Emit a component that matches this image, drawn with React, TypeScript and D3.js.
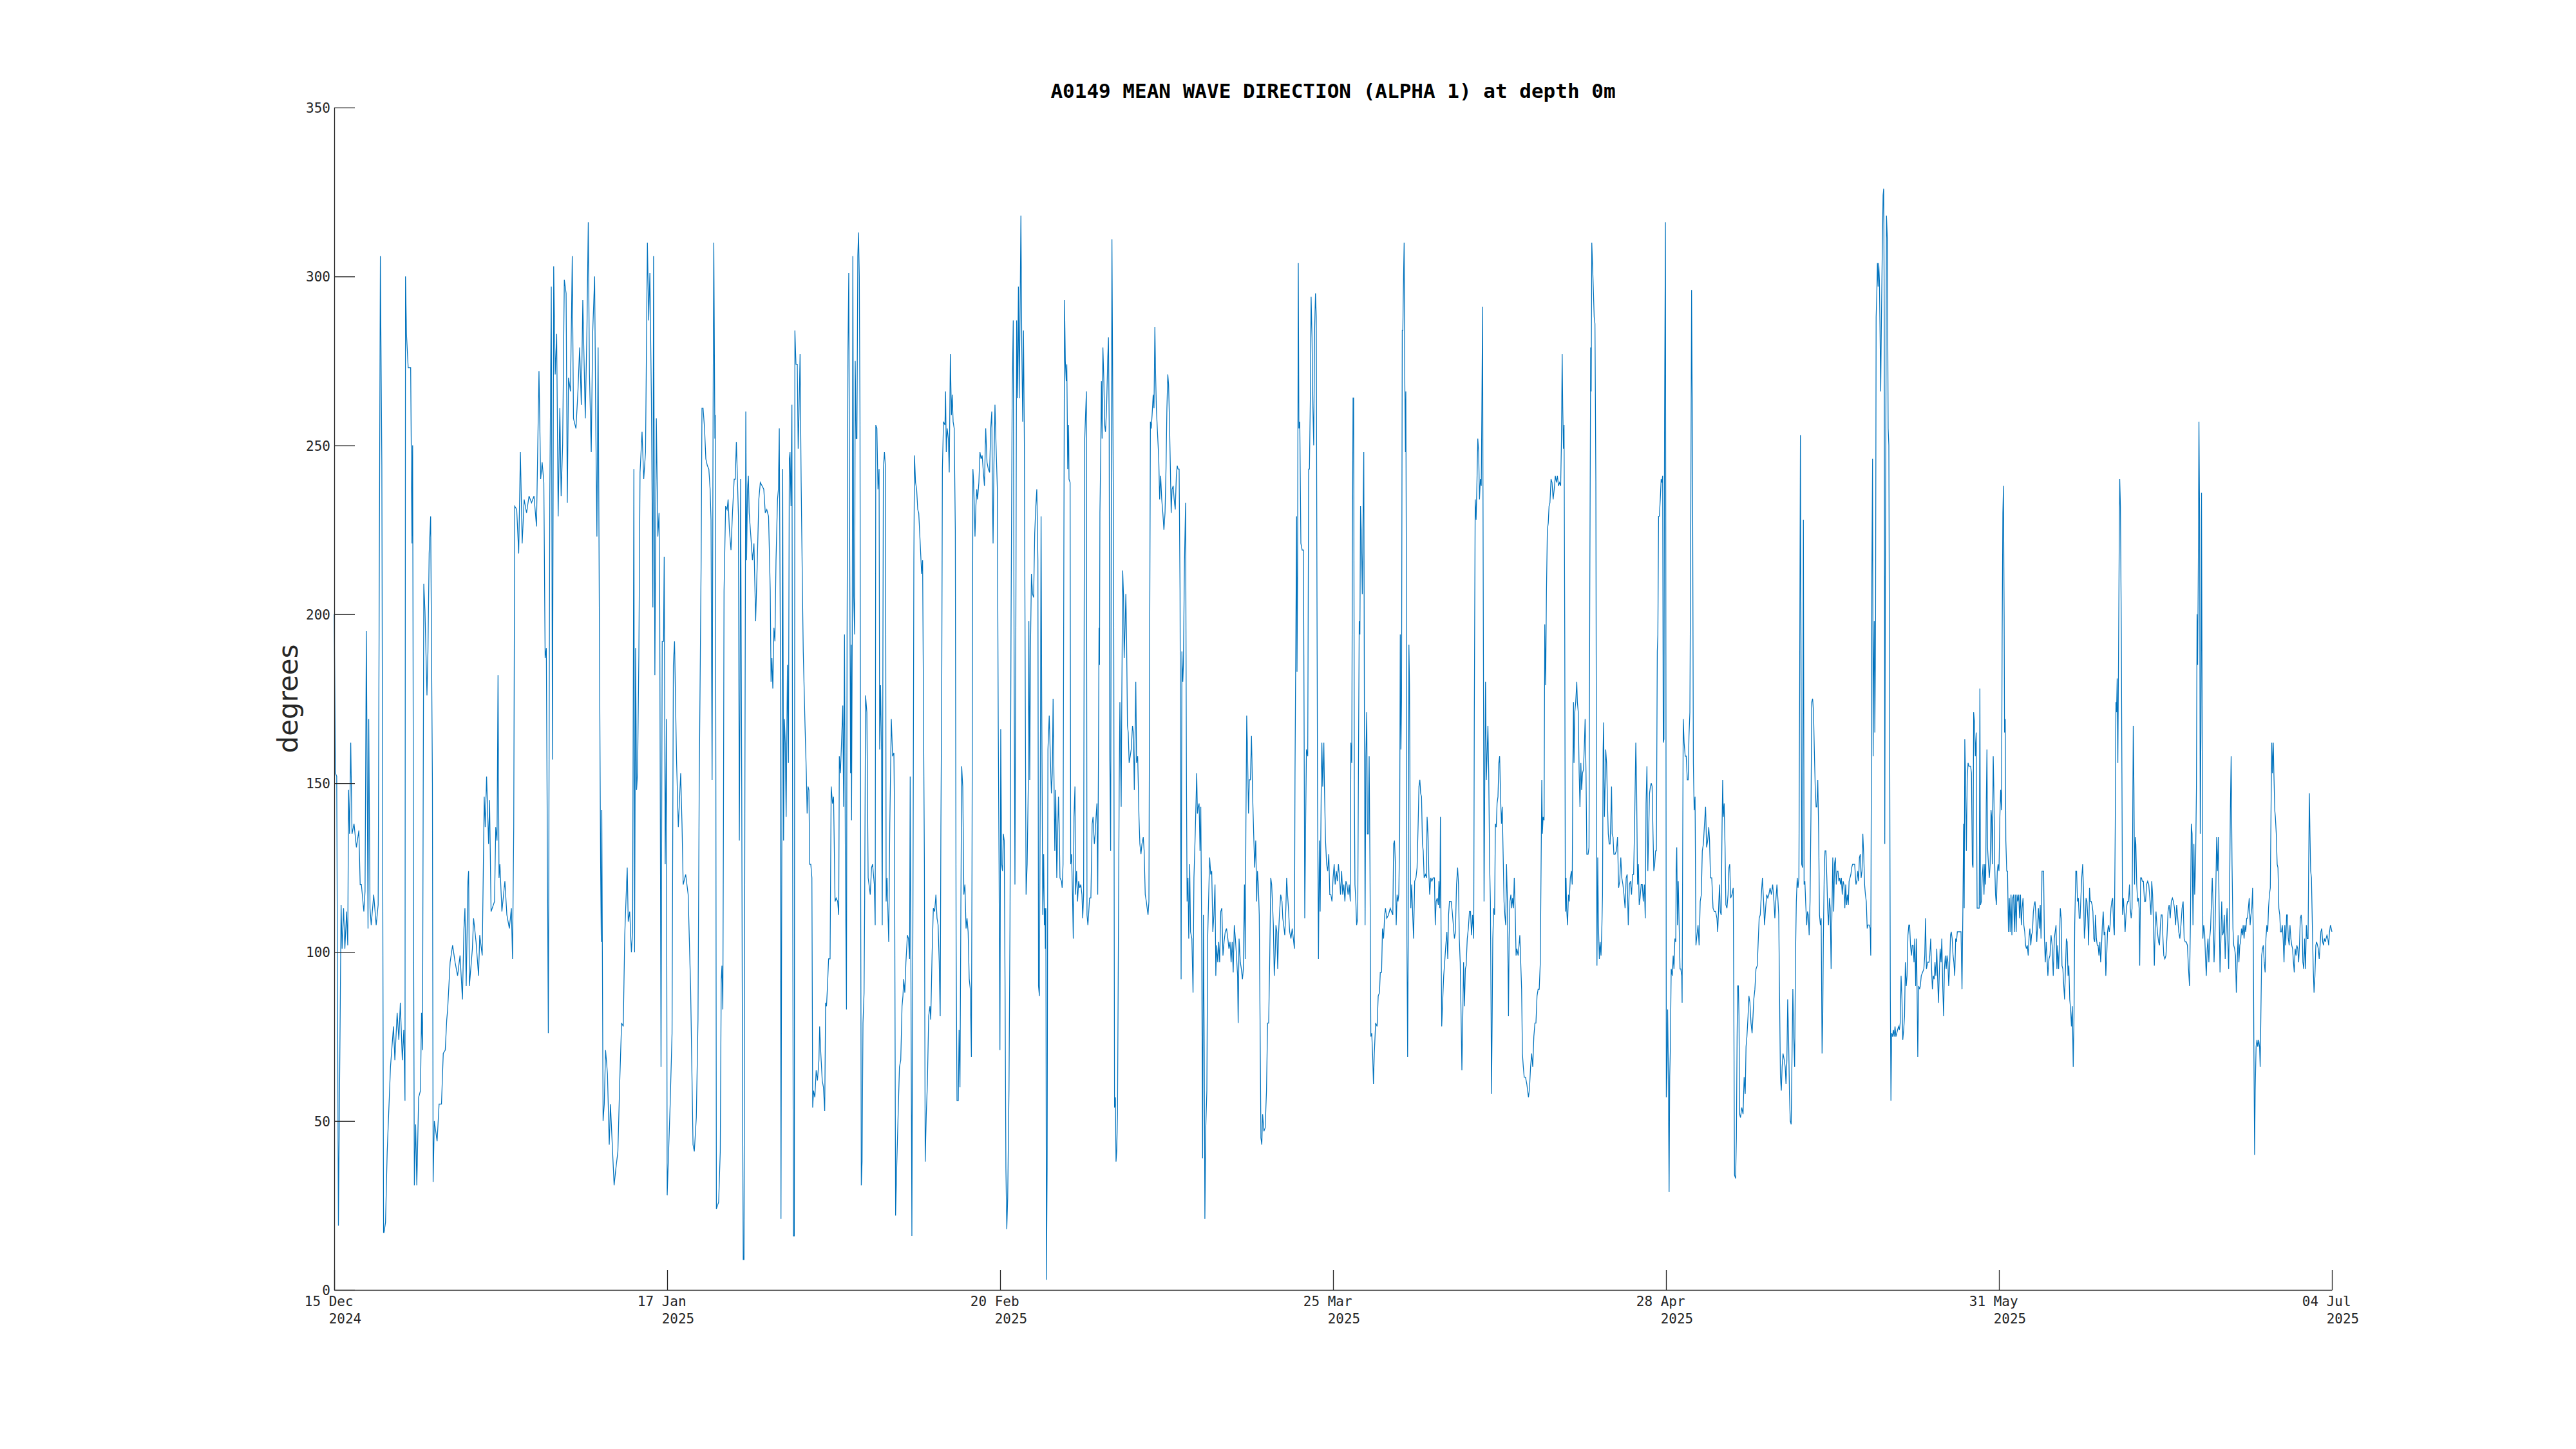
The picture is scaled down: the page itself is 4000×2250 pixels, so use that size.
import { useEffect, useRef } from "react";
import * as d3 from "d3";

const WIDTH = 4000;
const HEIGHT = 2250;

const title = "A0149 MEAN WAVE DIRECTION (ALPHA 1) at depth 0m";
const yLabel = "degrees";
const startDate = Date.UTC(2024, 11, 15);
const endDate = Date.UTC(2025, 6, 4);
const yTicks = [0, 50, 100, 150, 200, 250, 300, 350];
const xTickCount = 7;

// [days since 15 Dec 2024 00:00, degrees]
const decJanSamples: [number, number][] = [
  [0.00, 200], [0.12, 153], [0.25, 152], [0.42, 19], [0.69, 114], [0.79, 101], [0.94, 113], [1.07, 101],
  [1.24, 112], [1.36, 102], [1.44, 148], [1.54, 135], [1.66, 162], [1.79, 135], [1.99, 138], [2.23, 131],
  [2.48, 136], [2.61, 120], [2.73, 120], [2.98, 112], [3.10, 118], [3.23, 195], [3.40, 107], [3.47, 169],
  [3.60, 113], [3.72, 108], [3.97, 117], [4.22, 108], [4.42, 114], [4.52, 200], [4.64, 306], [4.79, 244],
  [4.96, 17], [5.01, 17], [5.16, 20], [5.33, 41], [5.66, 66], [5.96, 78], [6.10, 68], [6.33, 82],
  [6.50, 74], [6.65, 85], [6.85, 68], [7.00, 77], [7.12, 56], [7.17, 300], [7.27, 283], [7.44, 273],
  [7.69, 273], [7.82, 221], [7.89, 250], [7.99, 100], [8.06, 31], [8.19, 49], [8.31, 31], [8.49, 57],
  [8.68, 59], [8.78, 82], [8.88, 71], [9.01, 209], [9.13, 201], [9.33, 176], [9.43, 189], [9.55, 218],
  [9.70, 229], [9.88, 150], [9.95, 32], [10.07, 50], [10.35, 44], [10.55, 55], [10.79, 55], [10.97, 70],
  [11.17, 71], [11.32, 80], [11.41, 83], [11.66, 97], [11.91, 102], [12.16, 97], [12.41, 93], [12.66, 99],
  [12.90, 86], [13.05, 107], [13.15, 113], [13.28, 90], [13.45, 121], [13.52, 124], [13.60, 90], [13.90, 101],
  [14.02, 110], [14.27, 103], [14.52, 93], [14.64, 105], [14.89, 99], [15.09, 146], [15.19, 137], [15.33, 152],
  [15.53, 132], [15.63, 145], [15.78, 112], [16.13, 115], [16.25, 137], [16.38, 133], [16.48, 182], [16.58, 122],
  [16.67, 126], [16.87, 112], [17.17, 121], [17.37, 111], [17.62, 107], [17.82, 113], [17.94, 98], [18.06, 137],
  [18.16, 232], [18.36, 231], [18.56, 218], [18.73, 248], [18.91, 221], [19.11, 234], [19.35, 230], [19.60, 235],
  [19.85, 233], [20.10, 235], [20.35, 226], [20.60, 272], [20.77, 240], [20.92, 245], [21.09, 239], [21.22, 187],
  [21.34, 190], [21.54, 76], [21.69, 235], [21.84, 297], [21.96, 157], [22.08, 303], [22.23, 271], [22.38, 283],
  [22.53, 229], [22.70, 261], [22.83, 235], [22.98, 250], [23.15, 299], [23.33, 295], [23.45, 233], [23.57, 270],
  [23.77, 266], [23.95, 306], [24.07, 258], [24.32, 255], [24.52, 266], [24.69, 279], [24.86, 262], [25.01, 293],
  [25.26, 258], [25.43, 285], [25.56, 316], [25.68, 271], [25.86, 248], [26.00, 283], [26.20, 300], [26.30, 262],
  [26.43, 223], [26.55, 279], [26.67, 202], [26.80, 126], [26.87, 103], [26.92, 142], [27.05, 50], [27.17, 55],
  [27.30, 71], [27.49, 64], [27.67, 43], [27.79, 55], [27.99, 42], [28.16, 31], [28.34, 36], [28.54, 41],
  [28.73, 62], [28.91, 79], [29.08, 78], [29.23, 105], [29.35, 115], [29.48, 125], [29.58, 109], [29.73, 112],
  [29.90, 100], [30.02, 106], [30.15, 243], [30.22, 100], [30.32, 190], [30.42, 148], [30.52, 153], [30.65, 188],
  [30.77, 242], [30.97, 254], [31.14, 240], [31.32, 248], [31.51, 310], [31.64, 287], [31.76, 301], [31.91, 264],
  [32.06, 202], [32.13, 306], [32.26, 182], [32.41, 258], [32.56, 223], [32.68, 230], [32.75, 202], [32.88, 66],
  [33.00, 192], [33.13, 192], [33.20, 217], [33.30, 126], [33.42, 169], [33.50, 28], [33.62, 39], [33.80, 55],
  [33.99, 76], [34.12, 185], [34.24, 192], [34.44, 157], [34.62, 137], [34.86, 153], [34.99, 138], [35.11, 120],
  [35.36, 123], [35.61, 117], [35.86, 89], [36.10, 43], [36.23, 41], [36.43, 51], [36.60, 80], [36.72, 148],
  [36.92, 217],
];

const janFebSamples: [number, number][] = [
  [37.00, 261], [37.11, 261], [37.26, 255], [37.39, 246], [37.54, 244], [37.69, 243], [37.82, 237], [37.91, 228],
  [38.02, 151], [38.12, 261], [38.19, 310], [38.30, 252], [38.34, 259], [38.40, 149], [38.45, 24], [38.56, 25],
  [38.68, 26], [38.84, 41], [38.94, 92], [39.01, 96], [39.10, 83], [39.16, 138], [39.22, 207], [39.38, 232],
  [39.53, 231], [39.63, 234], [39.76, 225], [39.92, 219], [40.07, 230], [40.24, 240], [40.35, 240], [40.46, 251],
  [40.56, 241], [40.67, 229], [40.76, 133], [40.82, 171], [40.89, 240], [41.00, 149], [41.06, 81], [41.15, 9],
  [41.23, 9], [41.32, 149], [41.41, 260], [41.49, 216], [41.58, 237], [41.67, 241], [41.75, 230], [41.92, 223],
  [42.08, 216], [42.23, 221], [42.40, 198], [42.57, 216], [42.72, 234], [42.87, 239], [43.05, 238], [43.22, 237],
  [43.37, 230], [43.52, 231], [43.70, 229], [43.87, 207], [43.95, 180], [44.04, 187], [44.13, 178], [44.24, 196],
  [44.34, 192], [44.45, 216], [44.60, 234], [44.69, 237], [44.78, 255], [44.88, 194], [44.95, 21], [45.03, 126],
  [45.12, 243], [45.21, 133], [45.29, 169], [45.38, 162], [45.47, 140], [45.60, 185], [45.70, 156], [45.79, 246],
  [45.86, 248], [45.96, 232], [46.05, 262], [46.14, 104], [46.20, 16], [46.29, 16], [46.35, 284], [46.46, 274],
  [46.59, 274], [46.68, 249], [46.76, 259], [46.87, 277], [46.98, 239], [47.11, 207], [47.19, 189], [47.37, 167],
  [47.50, 153], [47.58, 141], [47.67, 149], [47.76, 148], [47.84, 126], [47.95, 126], [48.06, 122], [48.14, 54],
  [48.23, 59], [48.36, 57], [48.49, 65], [48.62, 62], [48.77, 68], [48.84, 78], [48.94, 71], [49.10, 62],
  [49.22, 60], [49.35, 53], [49.44, 85], [49.53, 84], [49.63, 90], [49.74, 98], [49.89, 98], [50.00, 149],
  [50.13, 144], [50.24, 146], [50.39, 115], [50.50, 116], [50.65, 115], [50.76, 111], [50.82, 158], [50.93, 153],
  [51.04, 162], [51.17, 173], [51.25, 143], [51.34, 194], [51.43, 126], [51.54, 83], [51.60, 194], [51.69, 278],
  [51.77, 301], [51.86, 223], [51.95, 153], [52.01, 191], [52.05, 139], [52.12, 194], [52.18, 306], [52.27, 205],
  [52.36, 194], [52.42, 275], [52.51, 252], [52.59, 252], [52.68, 306], [52.75, 313], [52.83, 300], [52.90, 257],
  [52.98, 104], [53.03, 31], [53.11, 38], [53.20, 79], [53.31, 88], [53.37, 115], [53.46, 176], [53.59, 171],
  [53.72, 122], [53.85, 119], [53.93, 117], [54.06, 125], [54.17, 126], [54.28, 122], [54.34, 120], [54.43, 108],
  [54.49, 256], [54.60, 255], [54.71, 237], [54.82, 243], [54.88, 160], [54.97, 179], [55.06, 160], [55.14, 108],
  [55.25, 243], [55.36, 248], [55.47, 243], [55.53, 115], [55.62, 122], [55.79, 103], [55.90, 138], [56.05, 169],
  [56.18, 158], [56.31, 159], [56.37, 141], [56.48, 22], [56.59, 36], [56.72, 50], [56.87, 66], [57.00, 68],
  [57.13, 84], [57.22, 87], [57.30, 92], [57.41, 88], [57.52, 97], [57.67, 105], [57.78, 104], [57.89, 98],
  [57.95, 152], [58.02, 99], [58.12, 16], [58.23, 115], [58.32, 216], [58.38, 247], [58.49, 239], [58.60, 237],
  [58.71, 231], [58.81, 230], [58.99, 219], [59.10, 212], [59.20, 216], [59.29, 171], [59.38, 126], [59.46, 38],
  [59.57, 52], [59.68, 61], [59.81, 81], [59.94, 84], [60.02, 80], [60.15, 99], [60.28, 113], [60.41, 112],
  [60.54, 117], [60.65, 110], [60.76, 108], [60.87, 97], [60.97, 81], [61.04, 137], [61.13, 183], [61.19, 243],
  [61.30, 257], [61.45, 256], [61.51, 266], [61.58, 248], [61.67, 255], [61.79, 252], [61.88, 242], [61.99, 277],
  [62.10, 259], [62.18, 265], [62.27, 257], [62.38, 255], [62.49, 225], [62.57, 104], [62.66, 56], [62.79, 56],
  [62.87, 77], [62.96, 60], [63.05, 113], [63.13, 155], [63.24, 149], [63.35, 117], [63.46, 120], [63.57, 107],
  [63.67, 110], [63.78, 106], [63.89, 92], [64.00, 89], [64.11, 69], [64.17, 126], [64.26, 243], [64.34, 239],
  [64.47, 223], [64.56, 232], [64.65, 237], [64.73, 234], [64.86, 239], [64.97, 248], [65.08, 246], [65.19, 247],
  [65.29, 243], [65.42, 238], [65.55, 255], [65.68, 245], [65.81, 243], [65.94, 242], [66.05, 255], [66.16, 260],
  [66.22, 237], [66.29, 221], [66.37, 243], [66.48, 262], [66.59, 250], [66.72, 237], [66.81, 167], [66.89, 126],
  [66.98, 71], [67.06, 166], [67.15, 126], [67.24, 124], [67.32, 135], [67.41, 133], [67.50, 88], [67.58, 36],
  [67.67, 18], [67.76, 27], [67.89, 59], [67.99, 108], [68.10, 198], [68.21, 264], [68.32, 287], [68.40, 194],
  [68.49, 120], [68.58, 194], [68.66, 287], [68.75, 264], [68.84, 297], [68.92, 264], [69.01, 291], [69.09, 318],
  [69.18, 279], [69.27, 257], [69.35, 284], [69.44, 250], [69.53, 176], [69.61, 117], [69.72, 126], [69.83, 149],
  [69.89, 198], [69.98, 151], [70.05, 189], [70.15, 212], [70.26, 206], [70.37, 205], [70.48, 224], [70.59, 232],
];

const febMarSamples: [number, number][] = [
  [70.69, 237], [70.80, 216], [70.86, 90], [70.95, 87], [71.04, 149], [71.12, 229], [71.19, 171], [71.29, 111],
  [71.38, 129], [71.45, 108], [71.51, 113], [71.55, 101], [71.60, 113], [71.66, 3], [71.73, 36], [71.81, 160],
  [71.94, 170], [72.05, 158], [72.16, 147], [72.25, 153], [72.33, 175], [72.42, 151], [72.50, 130], [72.59, 148],
  [72.70, 122], [72.79, 135], [72.87, 146], [72.96, 135], [73.02, 122], [73.17, 121], [73.24, 119], [73.33, 126],
  [73.41, 216], [73.48, 293], [73.56, 275], [73.65, 269], [73.71, 274], [73.80, 243], [73.89, 256], [73.93, 240],
  [74.04, 239], [74.10, 126], [74.19, 129], [74.28, 117], [74.36, 104], [74.43, 140], [74.53, 149], [74.58, 117],
  [74.69, 124], [74.79, 115], [74.90, 121], [75.01, 119], [75.12, 120], [75.23, 117], [75.31, 110], [75.40, 117],
  [75.49, 250], [75.57, 257], [75.68, 266], [75.74, 111], [75.83, 108], [75.92, 112], [76.00, 116], [76.13, 116],
  [76.26, 138], [76.35, 140], [76.48, 132], [76.57, 135], [76.65, 140], [76.74, 144], [76.82, 117], [76.91, 167],
  [76.95, 196], [77.00, 185], [77.04, 230], [77.13, 250], [77.19, 269], [77.26, 252], [77.34, 279], [77.43, 270],
  [77.52, 256], [77.60, 254], [77.71, 261], [77.82, 275], [77.90, 282], [77.97, 257], [78.03, 160], [78.12, 130],
  [78.19, 239], [78.25, 311], [78.34, 261], [78.42, 216], [78.51, 54], [78.60, 57], [78.66, 38], [78.73, 41],
  [78.81, 52], [78.90, 104], [78.98, 149], [79.05, 174], [79.11, 160], [79.18, 143], [79.24, 174], [79.33, 213],
  [79.42, 205], [79.48, 187], [79.57, 196], [79.65, 206], [79.72, 194], [79.81, 167], [79.89, 165], [79.98, 156],
  [80.09, 158], [80.19, 160], [80.32, 167], [80.41, 165], [80.50, 148], [80.58, 165], [80.65, 180], [80.73, 156],
  [80.84, 158], [80.97, 140], [81.06, 132], [81.17, 129], [81.27, 132], [81.40, 134], [81.49, 130], [81.60, 117],
  [81.71, 115], [81.79, 113], [81.88, 111], [81.97, 115], [82.05, 194], [82.12, 257], [82.20, 255], [82.29, 259],
  [82.40, 265], [82.48, 261], [82.57, 285], [82.63, 273], [82.72, 261], [82.83, 254], [82.96, 246], [83.05, 234],
  [83.15, 241], [83.26, 234], [83.37, 230], [83.48, 225], [83.59, 230], [83.69, 243], [83.78, 261], [83.87, 271],
  [83.95, 268], [84.04, 257], [84.13, 243], [84.21, 230], [84.30, 237], [84.41, 238], [84.51, 234], [84.62, 231],
  [84.73, 241], [84.82, 244], [84.90, 243], [85.01, 243], [85.10, 207], [85.21, 92], [85.29, 189], [85.38, 180],
  [85.44, 185], [85.55, 216], [85.66, 233], [85.75, 149], [85.81, 115], [85.90, 122], [85.98, 104], [86.07, 126],
  [86.16, 106], [86.29, 104], [86.41, 88], [86.50, 122], [86.63, 135], [86.78, 153], [86.85, 141], [86.93, 143],
  [87.02, 144], [87.11, 130], [87.19, 143], [87.28, 104], [87.37, 39], [87.45, 111], [87.54, 70], [87.60, 21],
  [87.69, 48], [87.80, 59], [87.88, 104], [87.97, 115], [88.08, 128], [88.19, 123], [88.29, 124], [88.40, 106],
  [88.51, 111], [88.62, 120], [88.70, 93], [88.79, 102], [88.90, 97], [88.99, 103], [89.09, 97], [89.20, 112],
  [89.31, 113], [89.42, 99], [89.53, 103], [89.65, 106], [89.78, 107], [89.91, 104], [90.02, 101], [90.13, 103],
  [90.24, 97], [90.35, 103], [90.45, 94], [90.56, 108], [90.67, 104], [90.78, 99], [90.89, 93], [90.95, 79],
  [91.04, 104], [91.17, 97], [91.27, 95], [91.38, 92], [91.47, 95], [91.58, 120], [91.66, 98], [91.73, 138],
  [91.81, 170], [91.90, 158], [91.99, 141], [92.07, 151], [92.18, 151], [92.29, 164], [92.40, 147], [92.51, 135],
  [92.61, 125], [92.72, 133], [92.81, 115], [92.89, 124], [92.98, 120], [93.07, 111], [93.15, 81], [93.24, 45],
  [93.33, 43], [93.41, 52], [93.54, 47], [93.67, 48], [93.80, 59], [93.91, 79], [94.02, 79], [94.13, 99],
  [94.23, 122], [94.32, 120], [94.41, 114], [94.49, 108], [94.58, 93], [94.67, 99], [94.75, 108], [94.84, 106],
  [94.93, 95], [95.01, 105], [95.10, 111], [95.23, 117], [95.36, 115], [95.44, 110], [95.53, 108], [95.64, 105],
  [95.75, 113], [95.83, 122], [95.92, 117], [96.01, 113], [96.13, 106], [96.26, 104], [96.39, 107], [96.50, 104],
  [96.61, 101], [96.67, 153], [96.76, 196], [96.83, 229], [96.87, 183], [96.93, 212], [97.00, 304], [97.06, 255],
  [97.15, 257], [97.26, 221], [97.39, 219], [97.52, 219], [97.58, 171], [97.65, 110], [97.73, 135], [97.82, 160],
  [97.95, 158], [98.04, 243], [98.12, 243], [98.21, 264], [98.29, 294], [98.38, 282], [98.47, 261], [98.55, 250],
  [98.64, 284], [98.73, 295], [98.81, 288], [98.88, 205], [98.94, 144], [99.03, 98], [99.12, 133], [99.20, 112],
  [99.31, 149], [99.37, 162], [99.46, 149], [99.57, 162], [99.63, 149], [99.74, 133], [99.85, 126], [99.96, 124],
  [100.07, 129], [100.17, 117], [100.28, 117], [100.39, 115], [100.50, 122], [100.61, 126], [100.71, 120], [100.82, 124],
  [100.93, 121], [101.04, 126], [101.15, 122], [101.25, 117], [101.36, 124], [101.47, 117], [101.58, 120], [101.69, 115],
  [101.79, 121], [101.90, 120], [102.01, 117], [102.12, 120], [102.23, 115], [102.29, 162], [102.38, 156], [102.44, 216],
  [102.51, 264], [102.57, 264], [102.64, 149], [102.70, 120], [102.79, 115], [102.87, 108], [102.98, 110], [103.05, 153],
  [103.13, 198], [103.20, 194], [103.26, 232], [103.35, 223], [103.44, 206], [103.52, 230], [103.59, 248], [103.65, 171],
  [103.72, 108], [103.80, 158], [103.89, 171], [103.95, 135], [104.04, 135], [104.13, 158], [104.21, 126], [104.30, 75],
];

const aprSamples: [number, number][] = [
  [104.39, 76], [104.50, 68], [104.56, 61], [104.65, 70], [104.78, 79], [104.93, 78], [105.04, 87], [105.17, 88],
  [105.25, 94], [105.38, 94], [105.47, 107], [105.58, 104], [105.69, 111], [105.77, 113], [105.90, 110], [106.07, 111],
  [106.25, 113], [106.38, 112], [106.51, 111], [106.59, 132], [106.68, 133], [106.77, 126], [106.85, 108], [106.94, 117],
  [107.03, 115], [107.11, 117], [107.20, 135], [107.26, 194], [107.33, 160], [107.39, 176], [107.46, 284], [107.52, 284],
  [107.59, 300], [107.65, 310], [107.72, 268], [107.78, 248], [107.82, 266], [107.87, 216], [107.93, 104], [108.00, 69],
  [108.06, 104], [108.13, 191], [108.19, 179], [108.26, 133], [108.32, 113], [108.41, 120], [108.49, 113], [108.60, 104],
  [108.71, 121], [108.84, 122], [108.95, 125], [109.06, 138], [109.14, 149], [109.23, 151], [109.31, 147], [109.40, 146],
  [109.49, 132], [109.57, 130], [109.66, 122], [109.79, 123], [109.90, 122], [109.96, 140], [110.05, 135], [110.14, 123],
  [110.22, 117], [110.33, 122], [110.44, 121], [110.57, 122], [110.70, 122], [110.78, 108], [110.87, 115], [110.98, 116],
  [111.09, 114], [111.15, 121], [111.24, 113], [111.30, 140], [111.37, 104], [111.43, 78], [111.52, 85], [111.63, 93],
  [111.73, 97], [111.84, 102], [111.95, 106], [112.04, 98], [112.12, 111], [112.21, 115], [112.38, 115], [112.49, 112],
  [112.60, 108], [112.71, 104], [112.81, 106], [112.92, 120], [113.03, 125], [113.12, 120], [113.20, 104], [113.29, 97],
  [113.38, 81], [113.46, 65], [113.55, 81], [113.63, 97], [113.72, 84], [113.81, 95], [113.89, 96], [114.00, 104],
  [114.11, 107], [114.22, 112], [114.33, 112], [114.43, 105], [114.54, 111], [114.65, 104], [114.71, 171], [114.80, 234],
  [114.89, 228], [114.97, 238], [115.06, 252], [115.15, 248], [115.23, 234], [115.32, 240], [115.41, 238], [115.47, 261],
  [115.54, 291], [115.60, 216], [115.69, 115], [115.77, 153], [115.84, 180], [115.92, 151], [115.99, 158], [116.08, 167],
  [116.16, 153], [116.25, 126], [116.33, 115], [116.40, 81], [116.44, 58], [116.51, 81], [116.57, 104], [116.66, 113],
  [116.75, 111], [116.83, 138], [116.92, 137], [117.00, 144], [117.09, 146], [117.18, 156], [117.26, 158], [117.35, 146],
  [117.44, 138], [117.52, 143], [117.61, 129], [117.70, 115], [117.78, 111], [117.87, 108], [117.95, 126], [118.04, 115],
  [118.15, 81], [118.21, 104], [118.30, 115], [118.39, 117], [118.47, 113], [118.56, 116], [118.65, 113], [118.73, 122],
  [118.82, 113], [118.91, 99], [118.99, 101], [119.12, 99], [119.21, 102], [119.29, 105], [119.38, 97], [119.47, 89],
  [119.55, 70], [119.64, 66], [119.73, 63], [119.86, 63], [119.99, 61], [120.16, 57], [120.27, 60], [120.37, 66],
  [120.48, 70], [120.59, 66], [120.70, 75], [120.81, 79], [120.91, 79], [121.02, 87], [121.13, 89], [121.24, 89],
  [121.35, 97], [121.45, 133], [121.50, 151], [121.56, 135], [121.63, 140], [121.73, 139], [121.80, 197], [121.89, 179],
  [121.97, 207], [122.06, 225], [122.15, 227], [122.23, 232], [122.32, 233], [122.43, 240], [122.53, 239], [122.64, 234],
  [122.75, 237], [122.86, 241], [122.97, 239], [123.07, 241], [123.18, 238], [123.29, 239], [123.40, 238], [123.48, 252],
  [123.55, 277], [123.61, 261], [123.68, 249], [123.74, 256], [123.81, 194], [123.87, 112], [123.94, 122], [124.00, 113],
  [124.09, 108], [124.18, 117], [124.26, 115], [124.37, 122], [124.48, 124], [124.56, 120], [124.63, 156], [124.69, 174],
  [124.74, 156], [124.82, 171], [124.91, 174], [125.02, 180], [125.08, 174], [125.17, 171], [125.26, 153], [125.34, 143],
  [125.43, 156], [125.51, 148], [125.60, 153], [125.69, 154], [125.77, 160], [125.86, 169], [125.95, 153], [126.03, 129],
  [126.16, 129], [126.25, 131], [126.34, 216], [126.42, 279], [126.47, 266], [126.53, 310], [126.60, 304], [126.68, 297],
  [126.77, 288], [126.85, 286], [126.94, 239], [127.01, 129], [127.05, 96], [127.13, 128], [127.20, 108], [127.29, 98],
  [127.37, 103], [127.46, 99], [127.55, 108], [127.61, 117], [127.67, 160], [127.72, 168], [127.80, 140], [127.87, 149],
  [127.93, 160], [128.02, 156], [128.11, 144], [128.19, 135], [128.28, 132], [128.37, 132], [128.45, 140], [128.52, 149],
  [128.58, 135], [128.67, 134], [128.75, 129], [128.88, 129], [129.01, 130], [129.12, 134], [129.23, 119], [129.34, 121],
  [129.45, 128], [129.55, 122], [129.66, 120], [129.77, 117], [129.88, 113], [129.99, 122], [130.09, 123], [130.20, 108],
  [130.31, 120], [130.42, 121], [130.53, 117], [130.63, 123], [130.74, 123], [130.85, 140], [130.96, 162], [131.04, 149],
  [131.13, 120], [131.22, 126], [131.30, 114], [131.39, 116], [131.50, 120], [131.61, 120], [131.71, 115], [131.82, 120],
  [131.91, 110], [131.99, 144], [132.08, 155], [132.17, 124], [132.25, 135], [132.34, 147], [132.43, 149], [132.51, 150],
  [132.60, 149], [132.69, 135], [132.77, 124], [132.86, 126], [132.95, 130], [133.03, 130], [133.12, 189], [133.18, 194],
  [133.25, 229], [133.33, 229], [133.42, 234], [133.51, 240], [133.59, 239], [133.66, 241], [133.72, 162], [133.79, 163],
  [133.85, 257], [133.94, 316], [133.98, 216], [134.03, 57], [134.09, 63], [134.16, 83], [134.22, 68], [134.31, 29],
  [134.37, 63], [134.44, 72], [134.52, 95], [134.63, 93], [134.72, 99], [134.80, 95], [134.89, 104], [134.98, 103],
  [135.02, 124], [135.08, 131], [135.15, 108], [135.23, 121], [135.32, 108], [135.41, 95], [135.49, 95], [135.58, 93],
  [135.62, 85], [135.67, 126], [135.73, 169], [135.82, 162], [135.93, 158], [136.03, 158], [136.14, 151], [136.23, 151],
  [136.31, 164], [136.40, 171], [136.49, 228], [136.57, 296], [136.66, 250], [136.75, 156], [136.83, 142], [136.92, 146],
  [137.01, 102], [137.11, 105], [137.22, 108], [137.33, 102], [137.44, 115], [137.55, 117], [137.65, 130], [137.76, 132],
  [137.87, 138], [137.98, 143],
];

const maySamples: [number, number][] = [
  [138.08, 131], [138.19, 133], [138.30, 137], [138.38, 133], [138.47, 122], [138.60, 122], [138.73, 113], [138.86, 112],
  [138.99, 112], [139.12, 110], [139.20, 106], [139.29, 113], [139.38, 120], [139.46, 112], [139.55, 111], [139.64, 138],
  [139.70, 151], [139.76, 140], [139.85, 144], [139.94, 131], [140.02, 114], [140.13, 113], [140.24, 117], [140.33, 125],
  [140.41, 126], [140.50, 116], [140.63, 117], [140.76, 119], [140.82, 86], [140.89, 34], [141.00, 33], [141.08, 45],
  [141.15, 75], [141.21, 90], [141.28, 90], [141.34, 81], [141.41, 52], [141.49, 51], [141.62, 54], [141.75, 52],
  [141.86, 63], [141.97, 58], [142.05, 72], [142.14, 75], [142.25, 81], [142.34, 87], [142.44, 85], [142.55, 79],
  [142.66, 76], [142.75, 81], [142.83, 86], [142.94, 89], [143.05, 95], [143.18, 96], [143.26, 102], [143.37, 110],
  [143.48, 111], [143.59, 117], [143.70, 122], [143.80, 116], [143.91, 108], [144.02, 113], [144.13, 117], [144.24, 116],
  [144.34, 117], [144.47, 119], [144.60, 117], [144.73, 120], [144.86, 115], [144.95, 110], [145.04, 115], [145.16, 120],
  [145.25, 116], [145.34, 111], [145.42, 88], [145.51, 63], [145.60, 59], [145.68, 66], [145.77, 70], [145.90, 68],
  [145.99, 66], [146.07, 61], [146.16, 68], [146.24, 86], [146.33, 75], [146.42, 58], [146.50, 50], [146.59, 49],
  [146.68, 70], [146.76, 89], [146.85, 75], [146.94, 66], [147.02, 97], [147.11, 115], [147.20, 122], [147.28, 119],
  [147.37, 122], [147.45, 183], [147.52, 253], [147.58, 194], [147.65, 126], [147.74, 125], [147.82, 228], [147.89, 120],
  [147.97, 121], [148.06, 114], [148.15, 108], [148.23, 112], [148.32, 111], [148.40, 105], [148.49, 115], [148.58, 140],
  [148.66, 174], [148.75, 175], [148.84, 171], [148.92, 160], [149.01, 149], [149.10, 143], [149.18, 143], [149.27, 151],
  [149.36, 135], [149.44, 111], [149.53, 108], [149.61, 110], [149.70, 70], [149.77, 81], [149.83, 104], [149.92, 124],
  [150.00, 130], [150.09, 130], [150.18, 122], [150.26, 113], [150.35, 108], [150.44, 116], [150.52, 113], [150.61, 95],
  [150.69, 111], [150.78, 128], [150.87, 112], [150.95, 126], [151.04, 128], [151.13, 120], [151.21, 124], [151.30, 124],
  [151.39, 121], [151.47, 122], [151.56, 120], [151.64, 122], [151.73, 117], [151.82, 121], [151.90, 120], [151.99, 113],
  [152.08, 120], [152.16, 114], [152.25, 117], [152.34, 114], [152.42, 121], [152.51, 122], [152.60, 123], [152.68, 125],
  [152.77, 126], [152.85, 126], [152.98, 126], [153.11, 120], [153.20, 121], [153.29, 124], [153.37, 121], [153.46, 128],
  [153.55, 129], [153.63, 122], [153.72, 124], [153.80, 135], [153.89, 129], [153.98, 120], [154.06, 117], [154.15, 115],
  [154.24, 107], [154.32, 108], [154.45, 108], [154.54, 107], [154.60, 99], [154.67, 165], [154.71, 212], [154.78, 246],
  [154.84, 158], [154.88, 180], [154.95, 198], [155.01, 165], [155.08, 194], [155.14, 288], [155.21, 295], [155.27, 304],
  [155.34, 297], [155.40, 304], [155.47, 299], [155.53, 284], [155.60, 266], [155.66, 284], [155.75, 306], [155.84, 324],
  [155.90, 326], [155.96, 288], [156.01, 132], [156.07, 216], [156.14, 273], [156.18, 318], [156.27, 311], [156.35, 255],
  [156.42, 250], [156.48, 185], [156.57, 86], [156.63, 56], [156.70, 76], [156.79, 75], [156.87, 77], [156.96, 75],
  [157.04, 78], [157.13, 75], [157.22, 76], [157.30, 77], [157.39, 78], [157.48, 77], [157.56, 79], [157.65, 93],
  [157.74, 86], [157.82, 74], [157.91, 77], [158.00, 81], [158.08, 97], [158.17, 90], [158.25, 93], [158.34, 105],
  [158.43, 108], [158.51, 108], [158.60, 102], [158.69, 99], [158.77, 102], [158.86, 102], [158.95, 97], [159.03, 104],
  [159.12, 90], [159.20, 104], [159.27, 86], [159.33, 69], [159.42, 90], [159.51, 89], [159.59, 90], [159.68, 93],
  [159.81, 94], [159.94, 95], [160.03, 99], [160.11, 110], [160.20, 95], [160.33, 97], [160.46, 97], [160.54, 99],
  [160.63, 104], [160.72, 95], [160.80, 89], [160.89, 93], [160.98, 92], [161.06, 97], [161.15, 93], [161.24, 101],
  [161.32, 93], [161.41, 85], [161.49, 93], [161.58, 101], [161.67, 97], [161.75, 104], [161.84, 90], [161.93, 81],
  [162.01, 95], [162.10, 99], [162.19, 95], [162.27, 99], [162.36, 97], [162.44, 90], [162.53, 95], [162.62, 105],
  [162.70, 106], [162.79, 104], [162.88, 99], [162.96, 97], [163.05, 93], [163.14, 104], [163.22, 103], [163.31, 106],
  [163.46, 106], [163.68, 106], [163.78, 89], [163.87, 113], [163.94, 138], [164.00, 113], [164.06, 163], [164.13, 153],
  [164.22, 130], [164.30, 151], [164.39, 156], [164.48, 155], [164.56, 155], [164.65, 155], [164.73, 153], [164.82, 126],
  [164.89, 125], [164.95, 171], [165.04, 168], [165.12, 158], [165.21, 165], [165.30, 113], [165.40, 113], [165.51, 113],
  [165.58, 178], [165.64, 114], [165.73, 115], [165.81, 122], [165.90, 126], [165.99, 117], [166.07, 126], [166.16, 120],
  [166.22, 144], [166.29, 160], [166.35, 131], [166.44, 126], [166.53, 122], [166.61, 126], [166.70, 142], [166.76, 140],
  [166.83, 126], [166.92, 158], [166.98, 149], [167.07, 126], [167.15, 117], [167.24, 114], [167.33, 124], [167.41, 126],
  [167.50, 124], [167.59, 140], [167.67, 148], [167.76, 142], [167.82, 194], [167.89, 230], [167.95, 238], [168.02, 200],
  [168.06, 165], [168.13, 169], [168.19, 133], [168.28, 124], [168.36, 124], [168.45, 106], [168.54, 116], [168.62, 106],
  [168.71, 117], [168.80, 105], [168.88, 116], [168.97, 117], [169.05, 106], [169.14, 117], [169.23, 106], [169.31, 117],
  [169.40, 115], [169.49, 117], [169.57, 110], [169.66, 117], [169.75, 108], [169.83, 113], [169.92, 116], [170.00, 108],
  [170.09, 106], [170.18, 102], [170.26, 101], [170.35, 102], [170.44, 99], [170.52, 104], [170.61, 107], [170.70, 102],
  [170.78, 105], [170.87, 106], [170.96, 112], [171.04, 114], [171.13, 115], [171.21, 111], [171.30, 103], [171.39, 108],
  [171.47, 113], [171.56, 107], [171.65, 114], [171.73, 104],
];

const junJulSamples: [number, number][] = [
  [171.77, 110], [171.83, 124], [171.99, 124], [172.07, 104], [172.16, 97], [172.25, 103], [172.33, 99], [172.42, 93],
  [172.53, 98], [172.63, 99], [172.74, 105], [172.85, 102], [172.96, 93], [173.07, 104], [173.15, 106], [173.24, 108],
  [173.33, 95], [173.41, 102], [173.50, 95], [173.58, 102], [173.67, 113], [173.76, 110], [173.84, 96], [173.93, 95],
  [174.02, 90], [174.10, 86], [174.19, 95], [174.28, 104], [174.36, 103], [174.45, 93], [174.53, 96], [174.62, 86],
  [174.71, 83], [174.79, 78], [174.88, 84], [174.97, 66], [175.05, 81], [175.12, 108], [175.23, 124], [175.31, 124],
  [175.40, 115], [175.49, 116], [175.57, 110], [175.66, 110], [175.74, 116], [175.83, 122], [175.92, 126], [176.00, 119],
  [176.09, 104], [176.18, 108], [176.26, 116], [176.35, 115], [176.44, 110], [176.52, 102], [176.61, 119], [176.69, 115],
  [176.78, 115], [176.87, 114], [176.95, 112], [177.04, 104], [177.13, 103], [177.21, 111], [177.30, 104], [177.39, 102],
  [177.47, 102], [177.56, 99], [177.65, 103], [177.73, 97], [177.82, 102], [177.90, 108], [177.99, 112], [178.08, 105],
  [178.16, 106], [178.25, 93], [178.34, 99], [178.42, 106], [178.51, 108], [178.60, 106], [178.68, 108], [178.77, 113],
  [178.85, 115], [178.94, 116], [179.03, 108], [179.11, 105], [179.20, 138], [179.27, 174], [179.33, 171], [179.39, 181],
  [179.46, 156], [179.52, 183], [179.59, 217], [179.65, 240], [179.72, 232], [179.81, 194], [179.87, 153], [179.93, 111],
  [180.02, 116], [180.11, 111], [180.19, 106], [180.28, 111], [180.37, 114], [180.45, 115], [180.54, 115], [180.63, 120],
  [180.71, 113], [180.80, 110], [180.89, 113], [180.95, 135], [181.01, 167], [181.08, 149], [181.14, 120], [181.21, 134],
  [181.27, 132], [181.36, 120], [181.45, 115], [181.53, 116], [181.60, 113], [181.66, 96], [181.75, 122], [181.84, 122],
  [181.92, 121], [182.03, 121], [182.14, 115], [182.25, 115], [182.35, 120], [182.46, 121], [182.57, 120], [182.68, 116],
  [182.79, 111], [182.87, 121], [182.96, 117], [183.05, 108], [183.13, 96], [183.22, 108], [183.30, 112], [183.39, 108],
  [183.48, 105], [183.56, 103], [183.65, 102], [183.74, 108], [183.82, 111], [183.91, 111], [184.00, 104], [184.08, 99],
  [184.19, 98], [184.30, 99], [184.41, 105], [184.51, 112], [184.62, 114], [184.73, 110], [184.84, 115], [184.95, 116],
  [185.05, 115], [185.16, 113], [185.27, 108], [185.38, 114], [185.49, 110], [185.59, 106], [185.70, 104], [185.81, 108],
  [185.92, 113], [186.03, 115], [186.13, 104], [186.24, 103], [186.35, 103], [186.46, 102], [186.57, 95], [186.67, 90],
  [186.76, 108], [186.85, 138], [186.93, 135], [187.02, 108], [187.11, 132], [187.19, 117], [187.28, 126], [187.37, 149],
  [187.43, 200], [187.49, 185], [187.56, 216], [187.62, 257], [187.69, 228], [187.75, 135], [187.82, 165], [187.88, 236],
  [187.95, 160], [188.01, 104], [188.10, 108], [188.19, 106], [188.27, 99], [188.36, 93], [188.45, 101], [188.53, 104],
  [188.62, 97], [188.70, 104], [188.79, 107], [188.88, 115], [188.96, 122], [189.05, 113], [189.14, 97], [189.22, 104],
  [189.31, 117], [189.40, 134], [189.48, 124], [189.57, 134], [189.65, 113], [189.74, 94], [189.83, 104], [189.91, 115],
  [190.00, 105], [190.09, 106], [190.17, 111], [190.26, 98], [190.35, 106], [190.45, 113], [190.54, 102], [190.61, 95],
  [190.69, 113], [190.78, 142], [190.86, 158], [190.95, 126], [191.04, 107], [191.12, 102], [191.21, 101], [191.30, 99],
  [191.38, 88], [191.47, 97], [191.56, 105], [191.64, 97], [191.73, 102], [191.81, 103], [191.90, 107], [191.99, 105],
  [192.07, 108], [192.16, 104], [192.25, 108], [192.33, 106], [192.42, 110], [192.51, 110], [192.59, 113], [192.68, 116],
  [192.77, 108], [192.85, 111], [192.94, 113], [193.02, 119], [193.09, 104], [193.15, 70], [193.22, 40], [193.28, 59],
  [193.37, 72], [193.46, 74], [193.54, 72], [193.63, 74], [193.72, 72], [193.78, 66], [193.85, 81], [193.93, 99],
  [194.02, 101], [194.10, 102], [194.19, 97], [194.28, 94], [194.36, 104], [194.45, 108], [194.54, 106], [194.62, 113],
  [194.71, 117], [194.80, 119], [194.88, 144], [194.95, 162], [195.01, 153], [195.10, 162], [195.16, 153], [195.25, 142],
  [195.31, 140], [195.40, 135], [195.49, 126], [195.57, 125], [195.66, 113], [195.75, 111], [195.83, 106], [195.92, 106],
  [196.01, 108], [196.09, 104], [196.18, 97], [196.26, 108], [196.35, 102], [196.44, 111], [196.52, 111], [196.61, 104],
  [196.70, 102], [196.78, 108], [196.87, 104], [196.96, 102], [197.04, 101], [197.13, 97], [197.21, 94], [197.30, 101],
  [197.39, 99], [197.47, 102], [197.56, 101], [197.65, 97], [197.73, 102], [197.82, 110], [197.91, 111], [197.99, 108],
  [198.08, 97], [198.17, 95], [198.25, 104], [198.34, 95], [198.43, 108], [198.51, 104], [198.60, 104], [198.66, 126],
  [198.73, 147], [198.79, 135], [198.86, 124], [198.94, 122], [199.03, 108], [199.12, 95], [199.20, 88], [199.29, 93],
  [199.38, 102], [199.46, 103], [199.55, 102], [199.63, 101], [199.72, 98], [199.81, 102], [199.89, 106], [199.98, 107],
  [200.07, 103], [200.15, 102], [200.24, 104], [200.33, 103], [200.41, 104], [200.50, 105], [200.59, 104], [200.67, 102],
  [200.76, 106], [200.85, 108], [200.93, 107], [201.00, 106],
];

const DAY_MS = 86400000;

export default function App() {
  const svgRef = useRef<SVGSVGElement>(null);

  useEffect(() => {
    if (!svgRef.current) return;
    document.body.style.margin = "0";

    const svg = d3.select(svgRef.current);
    svg.selectAll("*").remove();

    const margin = { top: 167, right: 379, bottom: 247, left: 519 };
    const innerWidth = WIDTH - margin.left - margin.right;
    const innerHeight = HEIGHT - margin.top - margin.bottom;
    const axisColor = "#262626";
    const monoFont = "'DejaVu Sans Mono', 'Liberation Mono', monospace";

    svg.append("rect")
      .attr("width", WIDTH).attr("height", HEIGHT)
      .attr("fill", "#ffffff");

    const g = svg
      .append("g")
      .attr("transform", `translate(${margin.left},${margin.top})`);

    // Scales
    const xScale = d3.scaleUtc()
      .domain([new Date(startDate), new Date(endDate)])
      .range([0, innerWidth]);

    const yScale = d3.scaleLinear()
      .domain([0, 350])
      .range([innerHeight, 0]);

    const samples = [
      ...decJanSamples, ...janFebSamples, ...febMarSamples,
      ...aprSamples, ...maySamples, ...junJulSamples,
    ];

    const lineGenerator = d3.line<[number, number]>()
      .x(d => xScale(new Date(startDate + d[0] * DAY_MS)))
      .y(d => yScale(d[1]));

    g.append("path")
      .datum(samples)
      .attr("fill", "none")
      .attr("stroke", "#0072BD")
      .attr("stroke-width", 1.25)
      .attr("d", lineGenerator);

    // Axes (ticks point inward, like MATLAB)
    const step = (endDate - startDate) / (xTickCount - 1);
    const xTickValues = d3.range(xTickCount).map(i => new Date(startDate + i * step));
    const dayMonth = d3.utcFormat("%d %b");
    const year = d3.utcFormat("%Y");

    const xAxis = d3.axisBottom(xScale)
      .tickValues(xTickValues)
      .tickSizeInner(-31)
      .tickSizeOuter(0)
      .tickFormat(() => "");

    const yAxis = d3.axisLeft(yScale)
      .tickValues(yTicks)
      .tickSizeInner(-32)
      .tickSizeOuter(0)
      .tickPadding(6)
      .tickFormat(d => `${d}`);

    const xg = g.append("g")
      .attr("transform", `translate(0,${innerHeight})`)
      .call(xAxis);
    xg.selectAll("path, line").attr("stroke", axisColor).attr("stroke-width", 1.3);
    xg.selectAll("text").remove();

    const charW = 21 * 0.602;
    xg.selectAll<SVGGElement, Date>(".tick").each(function (d) {
      const t = d3.select(this).append("text")
        .attr("fill", axisColor)
        .attr("font-family", monoFont)
        .attr("font-size", 21)
        .attr("text-anchor", "start");
      t.append("tspan").attr("x", -3.7 * charW).attr("y", 25).text(dayMonth(d));
      t.append("tspan").attr("x", -0.7 * charW).attr("y", 52).text(year(d));
    });

    const yg = g.append("g").call(yAxis);
    yg.selectAll("path, line").attr("stroke", axisColor).attr("stroke-width", 1.3);
    yg.selectAll("text")
      .attr("fill", axisColor)
      .attr("font-family", monoFont)
      .attr("font-size", 21)
      .attr("dy", "0.36em");

    // Labels
    svg.append("text")
      .attr("transform", `translate(462,${margin.top + innerHeight / 2}) rotate(-90)`)
      .attr("text-anchor", "middle")
      .attr("fill", axisColor)
      .attr("font-family", "'DejaVu Sans', sans-serif")
      .attr("font-size", 42)
      .text(yLabel);

    svg.append("text")
      .attr("x", margin.left + innerWidth / 2)
      .attr("y", 152)
      .attr("text-anchor", "middle")
      .attr("fill", "#000000")
      .attr("font-family", monoFont)
      .attr("font-weight", "bold")
      .attr("font-size", 31)
      .text(title);
  }, []);

  return (
    <svg
      ref={svgRef}
      width={WIDTH}
      height={HEIGHT}
      style={{ display: "block" }}
    />
  );
}
